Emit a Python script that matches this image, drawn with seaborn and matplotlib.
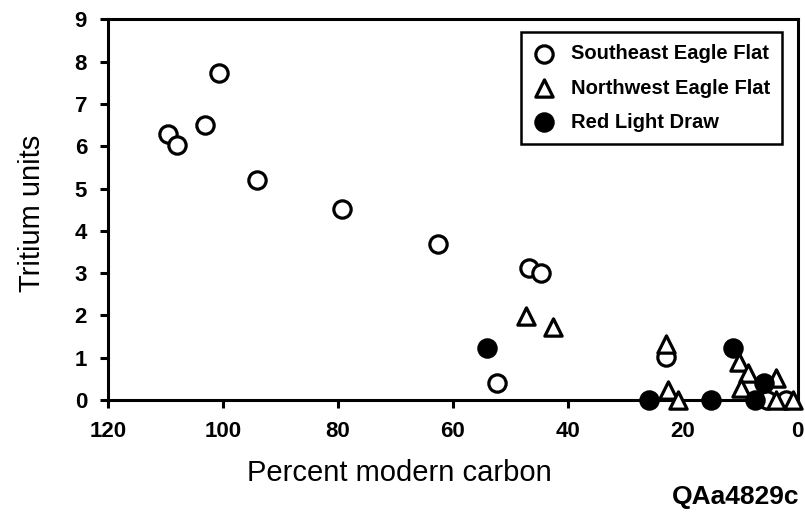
import numpy as np
import matplotlib
matplotlib.use("Agg")
import matplotlib.pyplot as plt
import seaborn as sns

# Southeast Eagle Flat (open circles)
se_pmc = [109.5, 108.0, 103.1, 100.7, 94.0, 79.2, 62.5, 46.8, 44.7, 52.4, 23.0, 5.3, 2.0]
se_tu = [6.29, 6.03, 6.50, 7.73, 5.20, 4.52, 3.69, 3.12, 3.00, 0.40, 1.02, 0.0, 0.0]

# Northwest Eagle Flat (open triangles)
nw_pmc = [47.2, 42.5, 23.0, 22.6, 20.9, 10.2, 8.7, 9.9, 3.8, 3.8, 0.8]
nw_tu = [1.99, 1.73, 1.32, 0.24, 0.0, 0.90, 0.64, 0.28, 0.52, 0.0, 0.0]

# Red Light Draw (filled circles)
rl_pmc = [54.0, 25.9, 15.1, 11.3, 5.9, 7.5]
rl_tu = [1.23, 0.0, 0.0, 1.23, 0.40, 0.0]

sns.set_style("ticks")
plt.rcParams["font.family"] = ["Liberation Sans", "DejaVu Sans"]
plt.rcParams["text.color"] = "black"
plt.rcParams["axes.labelcolor"] = "black"

fig = plt.figure(figsize=(8.05, 5.25), dpi=100)
ax = fig.add_axes([0.134, 0.238, 0.857, 0.725])

kw = dict(s=155, linewidth=2.3, ax=ax, zorder=3, clip_on=False)
sns.scatterplot(x=se_pmc, y=se_tu, marker="o", color="black", facecolor="white",
                edgecolor="black", label="Southeast Eagle Flat", **kw)
sns.scatterplot(x=nw_pmc, y=nw_tu, marker="^", color="black", facecolor="white",
                edgecolor="black", label="Northwest Eagle Flat", **kw)
sns.scatterplot(x=rl_pmc, y=rl_tu, marker="o", color="black", facecolor="black",
                edgecolor="black", label="Red Light Draw", **kw)

ax.set_xlim(120, 0)
ax.set_ylim(0, 9)
ax.set_xticks(np.arange(120, -1, -20))
ax.set_yticks(np.arange(0, 10, 1))

for side in ["left", "right", "top", "bottom"]:
    ax.spines[side].set_visible(True)
    ax.spines[side].set_linewidth(2.2)
    ax.spines[side].set_color("black")

ax.tick_params(direction="out", length=6, width=2.2, colors="black", labelsize=16)
ax.tick_params(axis="x", pad=9)
ax.tick_params(axis="y", pad=9)
for lab in ax.get_xticklabels() + ax.get_yticklabels():
    lab.set_fontweight("bold")

ax.set_xlabel("Percent modern carbon", fontsize=21, color="black")
ax.xaxis.set_label_coords(0.423, -0.155)
ax.set_ylabel("Tritium units", fontsize=21, color="black")
ax.yaxis.set_label_coords(-0.09, 0.49)

leg = ax.legend(loc="upper right", bbox_to_anchor=(0.977, 0.966), borderaxespad=0,
                frameon=True, fancybox=False, edgecolor="black", framealpha=1,
                prop={"weight": "bold", "size": 14.5},
                handletextpad=0.75, labelspacing=0.75, borderpad=0.6, handlelength=1.1)
leg.get_frame().set_linewidth(1.8)
for t in leg.get_texts():
    t.set_color("black")

fig.text(0.993, 0.03, "QAa4829c", ha="right", va="bottom", fontsize=19,
         fontweight="bold", color="black")

fig.savefig("out.png", dpi=100)
